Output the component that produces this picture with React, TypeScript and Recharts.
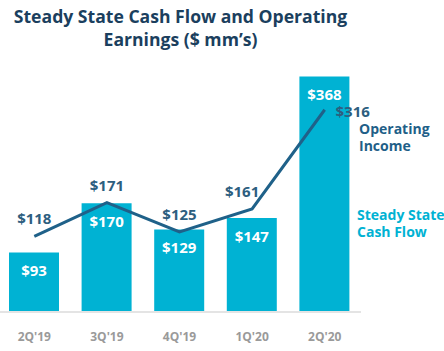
import { ComposedChart, Bar, Line, XAxis, YAxis, LabelList } from "recharts"

const quarters = ["2Q'19", "3Q'19", "4Q'19", "1Q'20", "2Q'20"]
const cashFlow = [93, 170, 129, 147, 368]
const operatingIncome = [118, 171, 125, 161, 316]

const data = quarters.map((q, i) => ({ q, cash: cashFlow[i], op: operatingIncome[i] }))

const font = "'Open Sans', 'Noto Sans', sans-serif"
const barColor = "#00b2d3"
const lineColor = "#1f6189"

function BarValue(props: any) {
  const { x, y, width, value } = props
  return (
    <text
      x={x + width / 2}
      y={y + 18}
      textAnchor="middle"
      dominantBaseline="central"
      fill="#fff"
      fontSize={15}
      fontWeight="bold"
      fontFamily={font}
    >
      ${value}
    </text>
  )
}

function LineValue(props: any) {
  const { x, y, value, index } = props
  const last = quarters.length - 1
  // last point gets its label to the right, the one before is nudged left of the rising line
  let dx = 0
  let dy = -18
  if (index === last) {
    dx = 28
    dy = 1
  } else if (index === last - 1) {
    dx = -10
  }
  return (
    <text
      x={x + dx}
      y={y + dy}
      textAnchor="middle"
      dominantBaseline="central"
      fill="#2d5e7f"
      fontSize={15}
      fontWeight="bold"
      fontFamily={font}
    >
      ${value}
    </text>
  )
}

const legendText = {
  position: "absolute" as const,
  fontWeight: "bold",
  fontSize: 14,
  lineHeight: "17px",
  whiteSpace: "nowrap" as const,
}

export default function App() {
  return (
    <div style={{ position: "absolute", left: 0, top: 0, width: 444, height: 351, fontFamily: font, background: "#fff" }}>
      <div
        style={{
          position: "absolute",
          left: 0,
          top: 5,
          width: 361,
          textAlign: "center",
          color: "#1b3f5e",
          fontWeight: "bold",
          fontSize: 17.6,
          lineHeight: "23px",
          whiteSpace: "nowrap",
        }}
      >
        Steady State Cash Flow and Operating
        <br />
        Earnings ($ mm’s)
      </div>
      <ComposedChart width={444} height={351} data={data} margin={{ top: 56, right: 83, left: -2, bottom: 0 }}>
        <XAxis
          dataKey="q"
          height={39}
          axisLine={{ stroke: "#e4e4e4", strokeWidth: 2 }}
          tickLine={false}
          tickMargin={14}
          tick={{ fontSize: 12, fontWeight: "bold", fill: "#9a9a9a", fontFamily: font }}
        />
        <YAxis hide domain={[0, 400]} />
        <Bar dataKey="cash" fill={barColor} barSize={50} isAnimationActive={false}>
          <LabelList dataKey="cash" content={BarValue} />
        </Bar>
        <Line
          dataKey="op"
          type="linear"
          stroke={lineColor}
          strokeWidth={3}
          dot={false}
          isAnimationActive={false}
        >
          <LabelList dataKey="op" content={LineValue} />
        </Line>
      </ComposedChart>
      <div style={{ ...legendText, left: 359, top: 120, color: "#1f5f88" }}>
        Operating
        <br />
        Income
      </div>
      <div style={{ ...legendText, left: 357, top: 206, color: barColor }}>
        Steady State
        <br />
        Cash Flow
      </div>
    </div>
  )
}
